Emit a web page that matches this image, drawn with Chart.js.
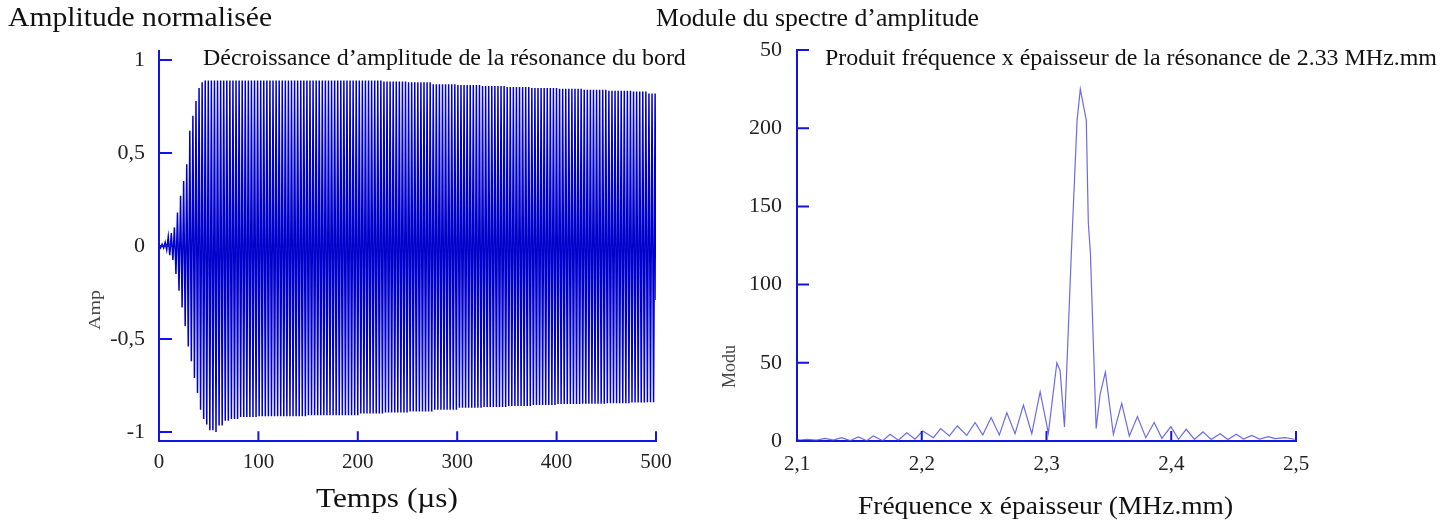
<!DOCTYPE html>
<html>
<head>
<meta charset="utf-8">
<script src="https://cdn.jsdelivr.net/npm/chart.js@4.4.1/dist/chart.umd.min.js"></script>
<style>
  body { margin: 0; background: #fff; width: 1456px; height: 524px; overflow: hidden; position: relative; font-family: "Liberation Serif", serif; }
  canvas { position: absolute; top: 0; }
  #cAmp { left: 0; }
  #cMod { left: 700px; }
  .t { position: absolute; white-space: nowrap; line-height: 1; color: #111; transform-origin: 0 0; }
  .side { color: #444; }
</style>
</head>
<body>
<canvas id="cAmp" width="700" height="524" style="width:700px;height:524px"></canvas>
<canvas id="cMod" width="756" height="524" style="width:756px;height:524px"></canvas>

<div class="t" data-w="264" style="left:8px;top:3.5px;font-size:27px">Amplitude normalisée</div>
<div class="t" data-w="323" style="left:656px;top:4.5px;font-size:26px">Module du spectre d’amplitude</div>
<div class="t" data-w="483" style="left:203px;top:44.9px;font-size:24px">Décroissance d’amplitude de la résonance du bord</div>
<div class="t" data-w="612" style="left:825px;top:44.9px;font-size:24px">Produit fréquence x épaisseur de la résonance de 2.33 MHz.mm</div>
<div class="t" data-w="142" style="left:316px;top:485.4px;font-size:27px">Temps (µs)</div>
<div class="t" data-w="375" style="left:858px;top:493.2px;font-size:26px">Fréquence x épaisseur (MHz.mm)</div>
<div class="t side" data-w="40" data-rot="1" style="left:86px;top:330px;font-size:17px">Amp</div>
<div class="t side" data-w="43" data-rot="1" style="left:719px;top:388px;font-size:19px">Modu</div>

<script>
// ===== DONNÉES : signal temporel (enveloppes) =====
const envTimes = [0, 5, 8, 10, 13, 16, 19, 22, 25, 28, 31, 34, 37, 40, 43, 46, 50, 55, 60, 65, 70, 80, 100, 150, 200, 225, 250, 275, 300, 325, 350, 375, 400, 425, 450, 475, 490];
const envUpper = [0.01, 0.02, 0.05, 0.07, 0.1, 0.18, 0.27, 0.35, 0.44, 0.53, 0.62, 0.70, 0.78, 0.85, 0.88, 0.89, 0.89, 0.89, 0.89, 0.89, 0.89, 0.89, 0.89, 0.89, 0.89, 0.885, 0.88, 0.87, 0.865, 0.86, 0.855, 0.85, 0.845, 0.84, 0.835, 0.83, 0.82];
const envLower = [-0.01, -0.02, -0.03, -0.05, -0.075, -0.15, -0.24, -0.33, -0.43, -0.54, -0.62, -0.71, -0.79, -0.88, -0.93, -0.96, -0.99, -1.0, -0.965, -0.94, -0.93, -0.92, -0.915, -0.91, -0.9, -0.895, -0.89, -0.88, -0.87, -0.865, -0.86, -0.855, -0.85, -0.848, -0.845, -0.842, -0.84];
const periodUs = 3.1;      // espacement des oscillations
const lastSample = -0.29;  // dernier échantillon à 500 µs
const timeTicks = [0, 100, 200, 300, 400, 500];
const ampTicks = [-1, -0.5, 0, 0.5, 1];

// ===== DONNÉES : module du spectre =====
const freqs = [2.100, 2.1024, 2.1078, 2.1158, 2.1225, 2.1291, 2.1358, 2.1425, 2.1492, 2.1559, 2.1612, 2.1687, 2.1746, 2.1812, 2.1880, 2.1946, 2.2008, 2.2093, 2.2152, 2.2221, 2.2285, 2.2361, 2.2427, 2.2489, 2.2556, 2.2622, 2.2682, 2.2748, 2.2815, 2.2882, 2.2949, 2.3015, 2.3083, 2.3109, 2.3144, 2.3199, 2.3245, 2.3271, 2.3319, 2.3335, 2.3352, 2.3398, 2.3430, 2.3472, 2.3536, 2.3603, 2.3664, 2.3729, 2.3796, 2.3863, 2.3925, 2.3997, 2.4058, 2.4120, 2.4186, 2.4254, 2.4320, 2.4392, 2.4454, 2.4521, 2.4579, 2.4646, 2.4707, 2.4779, 2.4833, 2.4913, 2.4988];
const moduli = [1.0, 0.6, 1.1, 0.6, 1.7, 0.6, 2.1, 0.2, 2.6, 0.2, 3.2, 0.2, 4.3, 0.5, 5.3, 1.1, 6.4, 2.1, 7.9, 3.2, 9.6, 3.6, 11.8, 3.9, 15, 3.9, 18, 4.7, 23, 4.7, 31.5, 5, 50, 45, 9, 120, 205, 225, 205, 140, 120, 8, 30, 44, 4.3, 24, 3.2, 15.6, 2.1, 11.8, 1.7, 9.2, 1.1, 7.5, 1.0, 5.8, 1.0, 4.7, 1.0, 4.3, 1.2, 3.6, 1.2, 2.8, 1.5, 2.1, 1.1];
const freqTicks = [2.1, 2.2, 2.3, 2.4, 2.5];
const modTicks = [0, 50, 100, 150, 200, 250];

// ===== CONSTRUCTION DU SIGNAL =====
function envAt(vals, t) {
    let i = 0;
    while (i + 1 < envTimes.length && envTimes[i + 1] <= t) i++;
    return vals[i];
}
const signalPoints = [];
for (let k = 0; k * periodUs / 2 < 500; k++) {
    const t = k * periodUs / 2;
    signalPoints.push({ x: t, y: envAt(k % 2 === 0 ? envUpper : envLower, t) });
}
signalPoints.push({ x: 500, y: lastSample });
const spectrumPoints = freqs.map((f, i) => ({ x: f, y: moduli[i] }));

// ===== STYLE COMMUN =====
const axisBlue = '#1414e0';
const serif = 'Liberation Serif';

// graduations tournées vers l'intérieur
const inwardTicks = {
    id: 'inwardTicks',
    afterDraw(chart, args, opts) {
        const { ctx, chartArea: a, scales: { x, y } } = chart;
        ctx.save();
        ctx.strokeStyle = axisBlue;
        ctx.lineWidth = 2;
        ctx.beginPath();
        x.ticks.forEach(t => {
            const px = x.getPixelForValue(t.value);
            ctx.moveTo(px, a.bottom);
            ctx.lineTo(px, a.bottom - opts.xLen);
        });
        y.ticks.forEach(t => {
            const py = y.getPixelForValue(t.value);
            ctx.moveTo(a.left, py);
            ctx.lineTo(a.left + opts.yLen, py);
        });
        ctx.stroke();
        ctx.restore();
    }
};

function axis(min, max, values, fmt, pad, size, fit) {
    return {
        type: 'linear', min, max,
        afterBuildTicks: s => { s.ticks = values.map(v => ({ value: v })); },
        afterFit: fit,
        ticks: { callback: fmt, color: '#222', font: { family: serif, size }, padding: pad, maxRotation: 0, autoSkip: false },
        grid: { display: false, drawTicks: false },
        border: { display: true, color: axisBlue, width: 2 }
    };
}
const comma = v => String(v).replace('.', ',');

// ===== GRAPHE TEMPOREL =====
new Chart(document.getElementById('cAmp'), {
    type: 'line',
    data: { datasets: [{ data: signalPoints, borderColor: '#0000cc', borderWidth: 1.5, pointRadius: 0, tension: 0, fill: false }] },
    options: {
        responsive: false, animation: false, normalized: true,
        layout: { padding: { left: 99, right: 44, top: 50.7, bottom: 42.7 } },
        plugins: { legend: { display: false }, tooltip: { enabled: false }, inwardTicks: { xLen: 10, yLen: 13 } },
        scales: {
            x: axis(0, 500, timeTicks, v => String(v), 9, 21, s => { s.height = 40; }),
            y: axis(-1.05, 1.05, ampTicks, comma, 14, 22, s => { s.width = 60; })
        }
    },
    plugins: [inwardTicks]
});

// ===== GRAPHE SPECTRE =====
new Chart(document.getElementById('cMod'), {
    type: 'line',
    data: { datasets: [{ data: spectrumPoints, borderColor: 'rgba(70,70,225,0.8)', borderWidth: 1.2, pointRadius: 0, tension: 0, fill: false }] },
    options: {
        responsive: false, animation: false,
        layout: { padding: { left: 47, right: 160, top: 50, bottom: 43 } },
        plugins: { legend: { display: false }, tooltip: { enabled: false }, inwardTicks: { xLen: 10, yLen: 12 } },
        scales: {
            x: axis(2.1, 2.5, freqTicks, v => v.toFixed(1).replace('.', ','), 11, 21, s => { s.height = 40; }),
            // le « 2 » de 250 est coupé sur la figure d'origine
            y: axis(0, 250, modTicks, v => v === 250 ? '50' : String(v), 15, 22, s => { s.width = 50; })
        }
    },
    plugins: [inwardTicks]
});

// ===== AJUSTEMENT DES TEXTES =====
document.fonts.ready.then(() => {
    document.querySelectorAll('.t').forEach(el => {
        const s = (+el.dataset.w) / el.getBoundingClientRect().width;
        el.style.transform = (el.dataset.rot ? 'rotate(-90deg) ' : '') + `scaleX(${s.toFixed(3)})`;
    });
});
</script>
</body>
</html>
